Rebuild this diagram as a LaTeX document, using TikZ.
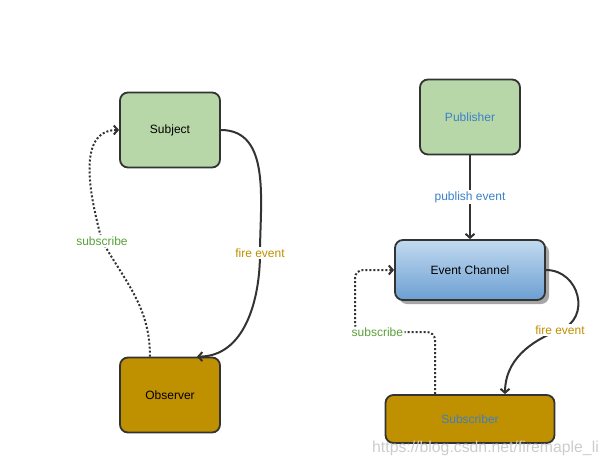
\documentclass[tikz,border=0pt]{standalone}
\usepackage{fontspec}
\setmainfont{Liberation Sans}
\usetikzlibrary{arrows.meta,shadows}
\definecolor{boxline}{HTML}{333333}
\definecolor{boxgreen}{HTML}{B7D7A8}
\definecolor{boxgold}{HTML}{BF9000}
\definecolor{txtblue}{HTML}{3B80C8}
\definecolor{txtgreen}{HTML}{5AA03C}
\definecolor{txtgold}{HTML}{BF9000}
\definecolor{chtop}{HTML}{C2DAEF}
\definecolor{chbot}{HTML}{6C9FD3}
\begin{document}
\begin{tikzpicture}[x=1pt, y=1pt,
    box/.style={draw=boxline, line width=1.8pt, rounded corners=8pt, font=\fontsize{12}{14}\selectfont},
    lbl/.style={fill=white, inner sep=1.5pt, font=\fontsize{12}{14}\selectfont},
    fire/.style={draw=boxline, line width=2pt, -{Straight Barb[length=4pt,width=9pt]}},
    sub/.style={draw=boxline, line width=2pt, dash pattern=on 2pt off 2pt, -{Straight Barb[length=4pt,width=9pt]}}]
    \useasboundingbox (0,0) rectangle (609,467);

    % Observer
    \node[box, fill=boxgreen, minimum width=100pt, minimum height=75pt] (subject) at (170,337) {Subject};
    \node[box, fill=boxgold, minimum width=100pt, minimum height=75pt] (observer) at (170,72) {Observer};

    \draw[fire] (subject.east) to[out=0,in=90] (260,214) node[lbl, text=txtgold] {fire event}
        to[out=-90,in=0] ([xshift=27pt]observer.north);
    \draw[sub] ([xshift=-20pt]observer.north) to[out=90,in=-60] (102,226) node[lbl, text=txtgreen] {subscribe}
        to[out=105,in=180] (subject.west);

    % Publish / Subscribe
    \node[box, fill=boxgreen, text=txtblue, minimum width=100pt, minimum height=75pt] (publisher) at (470,350) {Publisher};
    \node[box, top color=chtop, bottom color=chbot, minimum width=150pt, minimum height=60pt,
          drop shadow={shadow xshift=4pt, shadow yshift=-4pt, fill=black, opacity=0.35}] (channel) at (470,197) {Event Channel};
    \node[box, fill=boxgold, text=txtblue, minimum width=169pt, minimum height=48pt] (subscriber) at (470,48) {Subscriber};

    \draw[fire] (publisher) -- node[lbl, text=txtblue] {publish event} (channel);
    \draw[fire] (channel.east) to[out=0,in=20,looseness=1.4] (560,137) node[lbl, text=txtgold] {fire event}
        to[out=200,in=90] ([xshift=35pt]subscriber.north);
    \draw[sub, rounded corners=8pt] ([xshift=-35pt]subscriber.north) |- (355,135)
        node[lbl, text=txtgreen, pos=0.86] {subscribe} |- (channel.west);

    % Watermark
    \node[anchor=west, text=black!20, font=\fontsize{15.8}{16}\selectfont, inner sep=0pt] (mark) at (372,19) {https://blog.csdn.net/firemaple\_li};
\end{tikzpicture}
\end{document}
